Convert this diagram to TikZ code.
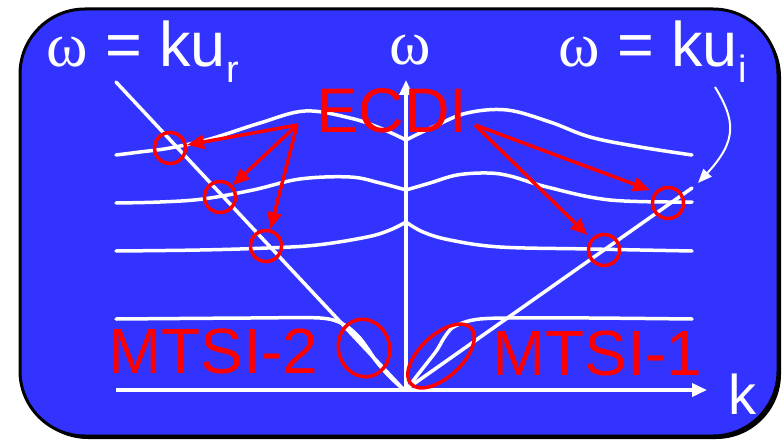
\documentclass[tikz,border=0pt]{standalone}
\usepackage{fontspec}
\setmainfont{Liberation Sans}
\newfontfamily\omegafont{Liberation Serif}
\usetikzlibrary{arrows.meta,shapes.geometric}
\definecolor{bg}{RGB}{51,51,255}
\begin{document}
\begin{tikzpicture}[x=1pt,y=-1pt,
  wline/.style={white, line width=3.5pt, line join=round, line cap=round},
  axisarrow/.style={white, line width=3.5pt, -{Triangle[length=15pt,width=13pt]}},
  ring/.style={circle, draw=red, line width=3.5pt, minimum size=31pt, inner sep=0pt},
  oval/.style={ellipse, draw=red, line width=3.5pt, inner sep=0pt},
  redarrow/.style={red, line width=3.5pt, -{Triangle[length=17pt,width=14pt]}},
  wlabel/.style={font=\fontsize{63}{70}\selectfont, text=white, inner sep=0pt},
  rlabel/.style={font=\fontsize{64}{70}\selectfont, text=red, inner sep=0pt}]
\useasboundingbox (0,0) rectangle (783,441);
% frame
\fill[black, rounded corners=65pt] (23,12) rectangle (781,439);
\draw[black, line width=3pt, fill=bg, rounded corners=65pt] (20,9) rectangle (778,436);

% key points
\coordinate (O) at (406,390);
\coordinate (wtop) at (406,80);
\coordinate (kstart) at (116,390);
\coordinate (kend) at (707,390);
\coordinate (urtop) at (116,82);
\coordinate (urbot) at (403,389);
\coordinate (uibot) at (408,388);
\coordinate (uitop) at (692,188);

% axes
\draw[axisarrow] (O) -- (wtop);
\draw[axisarrow] (kstart) -- (kend);

% beam lines
\draw[wline] (urtop) -- (urbot);
\draw[wline] (uibot) -- (uitop);

% dispersion curves
\draw[wline] plot[smooth, tension=0.6] coordinates {(116,155) (140,152) (170,148) (210,139) (260,123) (305,111) (350,118) (380,128) (406,140)};
\draw[wline] plot[smooth, tension=0.6] coordinates {(406,140) (435,126) (467,113) (507,110) (550,122) (590,137) (640,147) (692,155)};
\draw[wline] plot[smooth, tension=0.6] coordinates {(116,203) (160,202) (203,199) (253,190) (300,179) (350,177) (380,183) (406,190)};
\draw[wline] plot[smooth, tension=0.6] coordinates {(406,190) (430,183) (457,175) (487,173) (510,176) (547,187) (610,200) (692,202)};
\draw[wline] plot[smooth, tension=0.6] coordinates {(116,251) (200,250) (267,248) (317,245) (367,237) (390,230) (406,222)};
\draw[wline] plot[smooth, tension=0.6] coordinates {(406,222) (423,232) (450,240) (500,247) (590,249) (692,251)};
\draw[wline] plot[smooth, tension=0.5] coordinates {(116,319) (250,318) (320,318) (343,324) (358,336) (368,349) (376,361) (389,376) (403,389)};
\draw[wline] plot[smooth, tension=0.5] coordinates {(692,319) (590,318) (507,318) (480,319) (465,322) (452,328) (444,338) (437,350) (427,363) (416,377) (408,388)};

% labels
\node[wlabel, anchor=base west] (lblr) at (46,67) {{\omegafont ω} = ku\raisebox{-16pt}{\fontsize{38}{40}\selectfont r}};
\node[wlabel, anchor=base] (lblw) at (410,65) {\omegafont ω};
\node[wlabel, anchor=base west] (lbli) at (558,67) {{\omegafont ω} = ku\raisebox{-16pt}{\fontsize{38}{40}\selectfont i}};
\node[font=\fontsize{56}{60}\selectfont, text=white, inner sep=0pt, anchor=base west] (lblk) at (728,414) {k};

% curved pointer to the u_i line
\coordinate (cstart) at (715,87);
\coordinate (ctip) at (698,183);
\draw[white, line width=2pt, -{Triangle[length=14pt,width=11pt]}] (cstart) .. controls (735,120) and (738,140) .. (ctip);

% circles and ellipses
\node[ring] (c1) at (170,148) {};
\node[ring] (c2) at (220,197) {};
\node[ring] (c3) at (266,246) {};
\node[ring] (c4) at (604,250) {};
\node[ring] (c5) at (668,203) {};
\node[oval, minimum width=51pt, minimum height=58pt, rotate=15] (e1) at (364,348) {};
\node[oval, minimum width=82pt, minimum height=42pt, rotate=43] (e2) at (441,356) {};

% ECDI arrows
\coordinate (srcL) at (297,125);
\coordinate (srcR) at (475,125);
\draw[redarrow] (srcL) -- (c1);
\draw[redarrow] (srcL) -- (c2);
\draw[redarrow] (srcL) -- (c3);
\draw[redarrow, shorten >=5pt] (srcR) -- (c5.140);
\draw[redarrow, shorten >=5pt] (srcR) -- (c4.139);

% red labels
\node[rlabel, font=\fontsize{63}{70}\selectfont, anchor=base] (ecdi) at (392,132) {ECDI};
\node[rlabel, anchor=base west] (mtsi2) at (108,373) {MTSI-2};
\node[rlabel, anchor=base west] (mtsi1) at (492,375) {MTSI-1};
\end{tikzpicture}
\end{document}
